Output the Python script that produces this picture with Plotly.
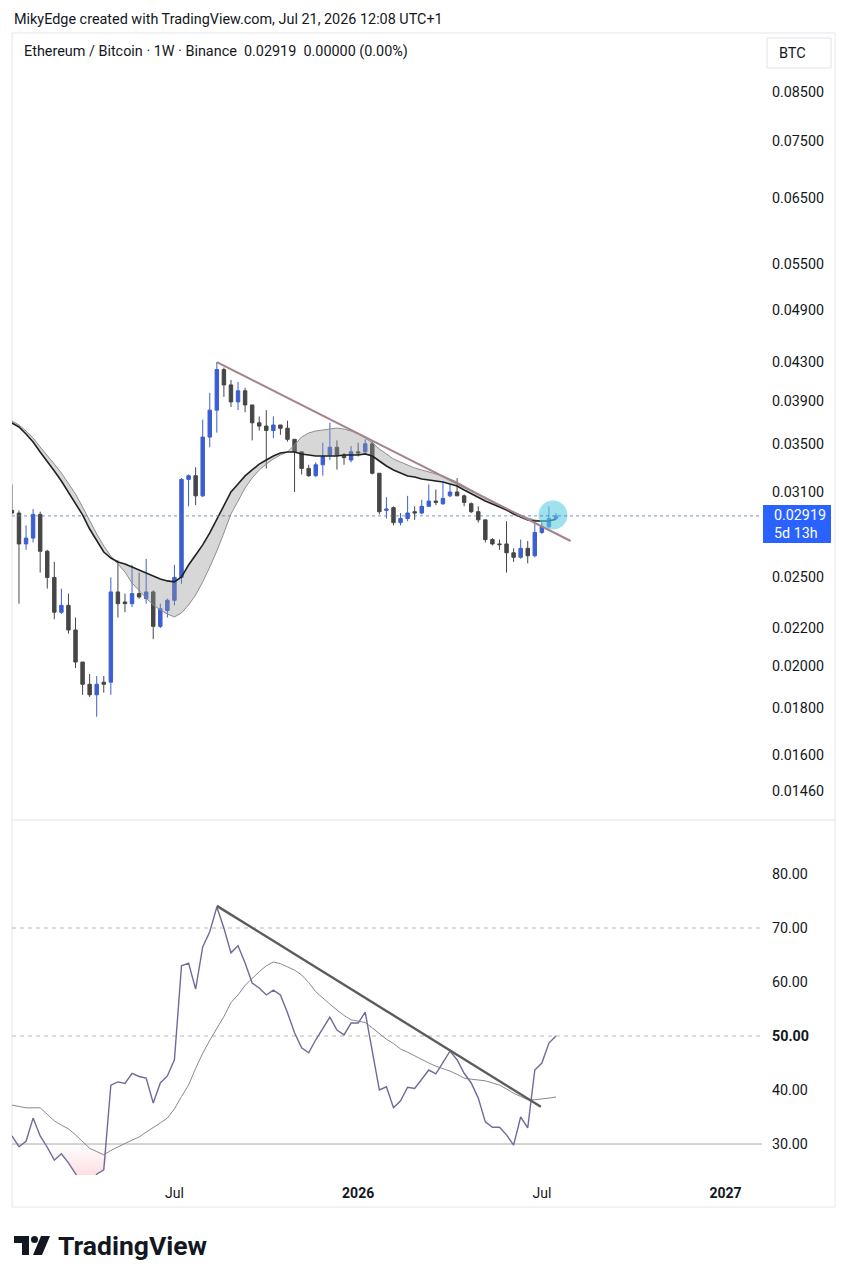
import math
import pandas as pd
import plotly.graph_objects as go

# ---------------- canvas geometry ----------------
W, H = 848, 1280
ML, MR, MT, MB = 12, 86, 33, 105
PW, PH = W - ML - MR, H - MT - MB


def fx(px):
    return (px - ML) / PW


def fy(py):
    return (H - MB - py) / PH


SPLIT = fy(820)

# ---------------- data ----------------
week_start = pd.date_range("2025-01-27", periods=78, freq="7D")

opens = [0.0296, 0.0294, 0.0272, 0.0276, 0.0293, 0.0267, 0.0250, 0.0229, 0.0233, 0.0219,
         0.0202, 0.0191, 0.0186, 0.0192, 0.0192, 0.0241, 0.0235, 0.0234, 0.0240, 0.0237,
         0.0241, 0.0221, 0.0230, 0.0236, 0.0250, 0.0320, 0.0323, 0.0307, 0.0356, 0.0381,
         0.0422, 0.0406, 0.0389, 0.0400, 0.0386, 0.0369, 0.0366, 0.0362, 0.0367, 0.0364,
         0.0354, 0.0343, 0.0329, 0.0323, 0.0332, 0.0340, 0.0347, 0.0340, 0.0336, 0.0343,
         0.0343, 0.0350, 0.0325, 0.0296, 0.0298, 0.0287, 0.0290, 0.0295, 0.0294, 0.0299,
         0.0303, 0.0301, 0.0307, 0.0310, 0.0307, 0.0301, 0.0295, 0.0289, 0.0275, 0.0272,
         0.0272, 0.0266, 0.0263, 0.0269, 0.0264, 0.0280, 0.0284, 0.0290]
highs = [0.0316, 0.0296, 0.0285, 0.0297, 0.0295, 0.0268, 0.0260, 0.0243, 0.0240, 0.0226,
         0.0202, 0.0196, 0.0195, 0.0195, 0.0250, 0.0261, 0.0240, 0.0258, 0.0253, 0.0262,
         0.0242, 0.0234, 0.0237, 0.0258, 0.0321, 0.0324, 0.0330, 0.0372, 0.0398, 0.0430,
         0.0424, 0.0411, 0.0409, 0.0403, 0.0386, 0.0375, 0.0381, 0.0375, 0.0367, 0.0371,
         0.0354, 0.0343, 0.0332, 0.0334, 0.0351, 0.0369, 0.0353, 0.0342, 0.0348, 0.0351,
         0.0354, 0.0353, 0.0325, 0.0306, 0.0299, 0.0294, 0.0307, 0.0299, 0.0304, 0.0316,
         0.0312, 0.0318, 0.0316, 0.0321, 0.0308, 0.0302, 0.0299, 0.0289, 0.0276, 0.0275,
         0.0288, 0.0269, 0.0275, 0.0274, 0.0287, 0.0288, 0.0299, 0.0294]
lows = [0.0293, 0.0234, 0.0268, 0.0273, 0.0253, 0.0243, 0.0225, 0.0228, 0.0217, 0.0199,
        0.0186, 0.0185, 0.0176, 0.0187, 0.0186, 0.0226, 0.0229, 0.0232, 0.0237, 0.0234,
        0.0214, 0.0220, 0.0226, 0.0233, 0.0246, 0.0299, 0.0300, 0.0306, 0.0347, 0.0360,
        0.0394, 0.0384, 0.0381, 0.0379, 0.0353, 0.0362, 0.0329, 0.0355, 0.0358, 0.0352,
        0.0310, 0.0324, 0.0322, 0.0322, 0.0323, 0.0336, 0.0328, 0.0332, 0.0334, 0.0339,
        0.0342, 0.0324, 0.0293, 0.0290, 0.0285, 0.0285, 0.0288, 0.0289, 0.0293, 0.0299,
        0.0300, 0.0300, 0.0306, 0.0307, 0.0299, 0.0294, 0.0287, 0.0273, 0.0271, 0.0268,
        0.0253, 0.0260, 0.0262, 0.0259, 0.0263, 0.0279, 0.0283, 0.0289]
closes = [0.0294, 0.0272, 0.0276, 0.0293, 0.0267, 0.0250, 0.0229, 0.0233, 0.0219, 0.0202,
          0.0191, 0.0186, 0.0191, 0.0191, 0.0241, 0.0234, 0.0234, 0.0240, 0.0238, 0.0241,
          0.0221, 0.0231, 0.0236, 0.0250, 0.0320, 0.0323, 0.0307, 0.0356, 0.0381, 0.0422,
          0.0406, 0.0389, 0.0400, 0.0386, 0.0369, 0.0366, 0.0362, 0.0367, 0.0364, 0.0354,
          0.0343, 0.0329, 0.0323, 0.0332, 0.0339, 0.0347, 0.0340, 0.0338, 0.0343, 0.0342,
          0.0350, 0.0325, 0.0295, 0.0297, 0.0287, 0.0290, 0.0294, 0.0294, 0.0299, 0.0303,
          0.0302, 0.0305, 0.0310, 0.0307, 0.0302, 0.0295, 0.0289, 0.0275, 0.0272, 0.02715,
          0.0266, 0.0263, 0.0269, 0.0264, 0.0280, 0.0284, 0.0290, 0.02919]

ema_fast = [0.03689, 0.03652, 0.03588, 0.03516, 0.03429, 0.03352, 0.03269, 0.03187, 0.03100, 0.03015,
            0.02926, 0.02824, 0.02740, 0.02665, 0.02625, 0.02599, 0.02586, 0.02566, 0.02547, 0.02528,
            0.02509, 0.02490, 0.02478, 0.02472, 0.02503, 0.02579, 0.02645, 0.02713, 0.02796, 0.02896,
            0.03000, 0.03100, 0.03163, 0.03228, 0.03277, 0.03326, 0.03360, 0.03394, 0.03420, 0.03429,
            0.03429, 0.03412, 0.03403, 0.03394, 0.03394, 0.03394, 0.03394, 0.03403, 0.03403, 0.03403,
            0.03412, 0.03394, 0.03352, 0.03310, 0.03277, 0.03252, 0.03228, 0.03220, 0.03203, 0.03195,
            0.03187, 0.03179, 0.03163, 0.03147, 0.03116, 0.03085, 0.03054, 0.03030, 0.03008, 0.02985,
            0.02963, 0.02933, 0.02911, 0.02889, 0.02882, 0.02882, 0.02882, 0.02896]
ema_slow = [0.03708, 0.03670, 0.03615, 0.03552, 0.03472, 0.03403, 0.03326, 0.03252, 0.03171, 0.03085,
            0.02985, 0.02882, 0.02789, 0.02706, 0.02638, 0.02586, 0.02534, 0.02465, 0.02416, 0.02374,
            0.02332, 0.02303, 0.02280, 0.02263, 0.02286, 0.02332, 0.02392, 0.02472, 0.02566, 0.02672,
            0.02796, 0.02933, 0.03030, 0.03132, 0.03211, 0.03277, 0.03326, 0.03369, 0.03403, 0.03429,
            0.03490, 0.03561, 0.03597, 0.03615, 0.03624, 0.03633, 0.03642, 0.03633, 0.03615, 0.03588,
            0.03552, 0.03508, 0.03455, 0.03412, 0.03369, 0.03343, 0.03318, 0.03293, 0.03277, 0.03260,
            0.03244, 0.03228, 0.03203, 0.03179, 0.03147, 0.03116, 0.03085, 0.03054, 0.03023, 0.02993,
            0.02970, 0.02948, 0.02926, 0.02904, 0.02889, 0.02882, 0.02882, 0.02889]

rsi = [31.5, 29.5, 30.5, 34.8, 31.5, 29.4, 27.0, 28.2, 26.5, 24.4,
       22.5, 22.0, 24.4, 25.2, 40.9, 41.5, 41.2, 43.1, 42.5, 42.2,
       37.6, 41.3, 42.6, 45.6, 63.0, 63.5, 58.7, 66.5, 69.3, 73.9,
       70.0, 65.4, 66.7, 63.5, 59.8, 58.9, 57.6, 58.5, 57.6, 54.3,
       50.6, 47.8, 46.9, 49.3, 51.5, 53.5, 51.1, 50.2, 52.4, 52.4,
       54.4, 47.4, 40.0, 40.6, 36.7, 38.0, 40.5, 40.3, 41.9, 43.7,
       43.0, 45.2, 47.2, 45.6, 43.1, 41.3, 38.5, 34.1, 33.1, 33.1,
       31.7, 29.8, 35.0, 33.0, 43.7, 45.0, 48.7, 50.0]
rsi_ma = [37.2, 36.9, 36.7, 36.7, 36.7, 35.5, 34.3, 33.5, 32.8, 31.7,
          30.4, 29.2, 28.6, 28.0, 28.8, 29.5, 30.1, 30.7, 31.3, 32.2,
          33.0, 33.9, 34.8, 36.5, 38.8, 40.9, 44.0, 46.8, 49.2, 51.5,
          53.6, 56.2, 57.6, 59.4, 60.7, 61.9, 63.0, 63.7, 63.4, 62.8,
          62.2, 61.3, 59.9, 58.2, 57.0, 55.9, 54.8, 53.8, 53.0, 52.7,
          52.5, 51.5, 50.4, 49.4, 48.6, 47.6, 47.0, 46.3, 45.7, 45.0,
          44.4, 44.0, 43.5, 42.9, 42.2, 42.0, 41.9, 41.7, 41.3, 40.9,
          40.2, 39.4, 38.8, 38.2, 38.2, 38.3, 38.5, 38.7]

price_trend_dates = ["2025-08-18", "2026-08-03 12:00"]
price_trend_vals = [0.0430, 0.0274]
rsi_trend_dates = ["2025-08-18", "2026-07-05"]
rsi_trend_vals = [74.1, 36.9]

last_price = 0.02919
highlight_date = ["2026-07-17"]
highlight_price = [0.02925]

price_ticks = [0.085, 0.075, 0.065, 0.055, 0.049, 0.043, 0.039, 0.035, 0.031,
               0.025, 0.022, 0.020, 0.018, 0.016, 0.0146]
price_tick_text = ["0.08500", "0.07500", "0.06500", "0.05500", "0.04900", "0.04300",
                   "0.03900", "0.03500", "0.03100", "0.02500", "0.02200", "0.02000",
                   "0.01800", "0.01600", "0.01460"]
rsi_ticks = [30, 40, 50, 60, 70, 80]
rsi_tick_text = ["30.00", "40.00", "<b>50.00</b>", "60.00", "70.00", "80.00"]
x_tick_dates = ["2025-07-07", "2026-01-05", "2026-07-06", "2027-01-04"]
x_tick_text = ["Jul", "<b>2026</b>", "Jul", "<b>2027</b>"]

X_RANGE = ["2025-01-27 02:00", "2027-02-09 02:00"]
PRICE_RANGE = [0.013569, 0.09851]
RSI_RANGE = [24.26, 90]

# ---------------- styles ----------------
BULL = "#3b5fd0"
BEAR = "#464646"
TXT = "#131722"
FONT = "Roboto"
FS = 14.3

fig = go.Figure()

# EMA ribbon
fig.add_trace(go.Scatter(x=week_start, y=ema_slow, mode="lines",
                         line=dict(color="#8e8e8e", width=1), xaxis="x", yaxis="y"))
fig.add_trace(go.Scatter(x=week_start, y=ema_fast, mode="lines", fill="tonexty",
                         fillcolor="rgba(150,150,150,0.38)",
                         line=dict(color="#1c2320", width=1.6), xaxis="x", yaxis="y"))

# highlight circle
fig.add_trace(go.Scatter(x=highlight_date, y=highlight_price, mode="markers",
                         marker=dict(size=29, color="rgba(95,205,225,0.6)", line=dict(width=0)),
                         xaxis="x", yaxis="y"))

# last price dotted line
fig.add_trace(go.Scatter(x=X_RANGE, y=[last_price, last_price], mode="lines",
                         line=dict(color="rgba(80,110,200,0.75)", width=1, dash="dot"),
                         xaxis="x", yaxis="y"))

# candles
fig.add_trace(go.Candlestick(
    x=week_start, open=opens, high=highs, low=lows, close=closes,
    increasing=dict(line=dict(color=BULL, width=1), fillcolor=BULL),
    decreasing=dict(line=dict(color=BEAR, width=1), fillcolor=BEAR),
    whiskerwidth=0, xaxis="x", yaxis="y"))

# price trendline
fig.add_trace(go.Scatter(x=price_trend_dates, y=price_trend_vals, mode="lines",
                         line=dict(color="#a6828a", width=2), xaxis="x", yaxis="y"))

# RSI oversold fill
fig.add_trace(go.Scatter(x=week_start, y=[30] * len(week_start), mode="lines",
                         line=dict(width=0, color="rgba(0,0,0,0)"), xaxis="x", yaxis="y2"))
fig.add_trace(go.Scatter(x=week_start, y=[min(v, 30) for v in rsi], mode="lines",
                         line=dict(width=0, color="rgba(0,0,0,0)"), fill="tonexty",
                         fillgradient=dict(type="vertical", start=14, stop=30,
                                           colorscale=[[0, "rgba(242,54,69,0.45)"],
                                                       [1, "rgba(242,54,69,0.0)"]]),
                         xaxis="x", yaxis="y2"))

# RSI MA and RSI
fig.add_trace(go.Scatter(x=week_start, y=rsi_ma, mode="lines",
                         line=dict(color="#8a8790", width=1), xaxis="x", yaxis="y2"))
fig.add_trace(go.Scatter(x=week_start, y=rsi, mode="lines",
                         line=dict(color="#706a9a", width=1.4), xaxis="x", yaxis="y2"))
fig.add_trace(go.Scatter(x=rsi_trend_dates, y=rsi_trend_vals, mode="lines",
                         line=dict(color="#5c5c5c", width=2.4), xaxis="x", yaxis="y2"))

# ---------------- shapes ----------------
shapes = []
# outer frame
shapes.append(dict(type="rect", xref="paper", yref="paper", x0=fx(12), x1=fx(835),
                   y0=fy(1207), y1=fy(33), line=dict(color="#e4e6eb", width=1), layer="below"))
# pane separator
shapes.append(dict(type="line", xref="paper", yref="paper", x0=fx(12), x1=fx(835),
                   y0=SPLIT, y1=SPLIT, line=dict(color="#e0e3eb", width=1)))
# RSI levels
for lvl, dash, col in [(70, "4px,4px", "#b8b8b8"), (50, "4px,4px", "#b8b8b8"), (30, "solid", "#a8a8a8")]:
    shapes.append(dict(type="line", xref="paper", yref="y2", x0=0, x1=1, y0=lvl, y1=lvl,
                       line=dict(color=col, width=1, dash=dash), layer="below"))
# BTC box
shapes.append(dict(type="rect", xref="paper", yref="paper", x0=fx(767), x1=fx(831),
                   y0=fy(68), y1=fy(38), fillcolor="white", line=dict(color="#e0e3eb", width=1)))
# last price label box
shapes.append(dict(type="rect", xref="paper", yref="paper", x0=fx(763), x1=fx(831),
                   y0=fy(543), y1=fy(505), fillcolor="#2962ff", line=dict(width=0)))
# TradingView logo
shapes.append(dict(type="rect", xref="paper", yref="paper", x0=fx(14), x1=fx(29),
                   y0=fy(1243), y1=fy(1236), fillcolor="#131722", line=dict(width=0)))
shapes.append(dict(type="rect", xref="paper", yref="paper", x0=fx(22), x1=fx(29),
                   y0=fy(1255), y1=fy(1236), fillcolor="#131722", line=dict(width=0)))
shapes.append(dict(type="circle", xref="paper", yref="paper", x0=fx(31), x1=fx(38),
                   y0=fy(1243), y1=fy(1236), fillcolor="#131722", line=dict(width=0)))
pts = [(41, 1236), (50, 1236), (42, 1255), (33, 1255)]
path = "M " + " L ".join(f"{fx(a):.5f},{fy(b):.5f}" for a, b in pts) + " Z"
shapes.append(dict(type="path", xref="paper", yref="paper", path=path,
                   fillcolor="#131722", line=dict(width=0)))

# ---------------- annotations ----------------
ann = []
ann.append(dict(text="MikyEdge created with TradingView.com, Jul 21, 2026 12:08 UTC+1",
                x=fx(12), y=fy(19), xref="paper", yref="paper", xanchor="left", yanchor="middle",
                showarrow=False, font=dict(family=FONT, size=14.4, color=TXT)))
ann.append(dict(text="Ethereum / Bitcoin \u00b7 1W \u00b7 Binance\u00a0\u00a00.02919\u00a0\u00a00.00000 (0.00%)",
                x=fx(22), y=fy(52), xref="paper", yref="paper", xanchor="left", yanchor="middle",
                showarrow=False, font=dict(family=FONT, size=14.4, color=TXT)))
ann.append(dict(text="BTC", x=fx(777), y=fy(53), xref="paper", yref="paper", xanchor="left",
                yanchor="middle", showarrow=False, font=dict(family=FONT, size=14.5, color=TXT)))
ann.append(dict(text="0.02919", x=fx(772), y=fy(515), xref="paper", yref="paper", xanchor="left",
                yanchor="middle", showarrow=False, font=dict(family=FONT, size=FS, color="white")))
ann.append(dict(text="5d 13h", x=fx(772), y=fy(533), xref="paper", yref="paper", xanchor="left",
                yanchor="middle", showarrow=False, font=dict(family=FONT, size=FS, color="white")))
ann.append(dict(text="<b>TradingView</b>", x=fx(56), y=fy(1245), xref="paper", yref="paper",
                xanchor="left", yanchor="middle", showarrow=False,
                font=dict(family=FONT, size=26.5, color="#131722")))

fig.update_layout(
    width=W, height=H,
    margin=dict(l=ML, r=MR, t=MT, b=MB),
    paper_bgcolor="white", plot_bgcolor="white",
    showlegend=False, hovermode=False,
    font=dict(family=FONT, size=FS, color=TXT),
    xaxis=dict(domain=[0, 1], anchor="y2", type="date", range=X_RANGE,
               tickvals=x_tick_dates, ticktext=x_tick_text, ticks="",
               showgrid=False, zeroline=False, showline=False,
               rangeslider=dict(visible=False), tickfont=dict(size=14, color=TXT),
               ticklabelstandoff=8),
    yaxis=dict(domain=[SPLIT, 1], anchor="x", type="log", side="right",
               range=[math.log10(PRICE_RANGE[0]), math.log10(PRICE_RANGE[1])],
               tickvals=price_ticks, ticktext=price_tick_text, ticks="",
               showgrid=False, zeroline=False, showline=False,
               tickfont=dict(size=FS, color=TXT), ticklabelstandoff=9),
    yaxis2=dict(domain=[0, SPLIT], anchor="x", side="right", range=RSI_RANGE,
                tickvals=rsi_ticks, ticktext=rsi_tick_text, ticks="",
                showgrid=False, zeroline=False, showline=False,
                tickfont=dict(size=FS, color=TXT), ticklabelstandoff=9),
    shapes=shapes, annotations=ann,
)

fig.write_html("out.html", config={"displayModeBar": False},
               post_script="document.body.style.margin='0px';document.body.style.padding='0px';")
